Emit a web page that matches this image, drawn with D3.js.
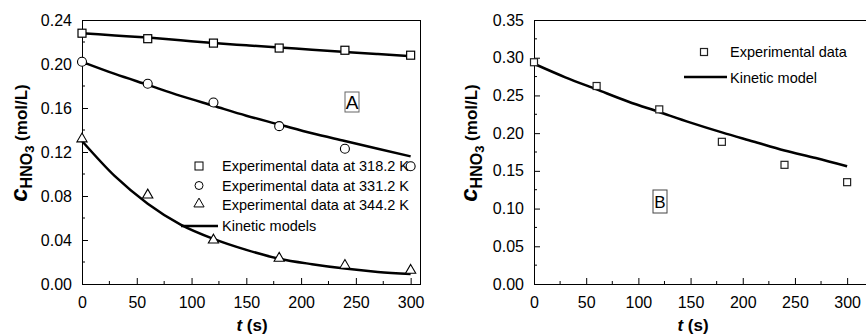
<!DOCTYPE html>
<html>
<head>
<meta charset="utf-8">
<script src="https://cdn.jsdelivr.net/npm/d3@7"></script>
<style>
  body { margin: 0; background: #fff; }
  svg { font-family: Arial, "Liberation Sans", sans-serif; }
</style>
</head>
<body>
<div id="chart-area"></div>
<script>
var width = 866,
    height = 335;

// ---- data ----
var expTimes = [0, 60, 120, 180, 240, 300];
var exp318 = [0.228, 0.223, 0.219, 0.2145, 0.2125, 0.208];
var exp331 = [0.202, 0.182, 0.165, 0.1435, 0.123, 0.107];
var exp344 = [0.131, 0.080, 0.039, 0.0225, 0.016, 0.0115];

var modelTimes = [0, 30, 60, 90, 120, 150, 180, 210, 240, 270, 300];
var model318 = [0.228, 0.226, 0.224, 0.2215, 0.219, 0.217, 0.215, 0.213, 0.211, 0.209, 0.207];
var model331 = [0.202, 0.191, 0.181, 0.171, 0.162, 0.153, 0.145, 0.137, 0.130, 0.123, 0.116];
var model344 = [0.130, 0.098, 0.073, 0.054, 0.041, 0.031, 0.023, 0.018, 0.014, 0.011, 0.009];

var expB = [0.294, 0.2625, 0.2315, 0.1885, 0.158, 0.135];
var modelB = [0.292, 0.274, 0.258, 0.242, 0.228, 0.214, 0.201, 0.189, 0.177, 0.167, 0.156];

var legendA = ["Experimental data at 318.2 K", "Experimental data at 331.2 K",
               "Experimental data at 344.2 K", "Kinetic models"];
var legendB = ["Experimental data", "Kinetic model"];

var xTicks = [0, 50, 100, 150, 200, 250, 300];
var yTicksA = [0, 0.04, 0.08, 0.12, 0.16, 0.20, 0.24];
var yTicksB = [0, 0.05, 0.10, 0.15, 0.20, 0.25, 0.30, 0.35];

var svg = d3.select("#chart-area").append("svg")
    .attr("width", width)
    .attr("height", height);

function zip(xs, ys) {
  return xs.map(function(x, i) { return {t: x, c: ys[i]}; });
}

// draws one panel frame + axes, returns scales
function panel(left, right, xMax, yMax, yTicks, yMinorStep, yFmt, drawRight) {
  var x = d3.scaleLinear().domain([0, xMax]).range([left, right]);
  var y = d3.scaleLinear().domain([0, yMax]).range([284, 20]);
  var g = svg.append("g");

  // minor ticks
  var xMinor = d3.range(25, 301, 50);
  g.selectAll(".xminor").data(xMinor).enter().append("line")
    .attr("x1", d => x(d)).attr("x2", d => x(d))
    .attr("y1", 284).attr("y2", 281)
    .attr("stroke", "#000");
  var yMinor = d3.range(yMinorStep, yMax, yMinorStep * 2);
  g.selectAll(".yminor").data(yMinor).enter().append("line")
    .attr("x1", left).attr("x2", left + 3)
    .attr("y1", d => y(d)).attr("y2", d => y(d))
    .attr("stroke", "#000");

  var xAxis = g.append("g").attr("transform", "translate(0,284)")
    .call(d3.axisBottom(x).tickValues(xTicks).tickSizeInner(-6).tickSizeOuter(0).tickPadding(13));
  var yAxis = g.append("g").attr("transform", "translate(" + left + ",0)")
    .call(d3.axisLeft(y).tickValues(yTicks).tickFormat(d3.format(yFmt)).tickSizeInner(-6).tickSizeOuter(0).tickPadding(10));
  [xAxis, yAxis].forEach(function(a) {
    a.selectAll("text").attr("font-size", 16).attr("fill", "#000")
      .attr("font-family", "Arial, 'Liberation Sans', sans-serif");
    a.selectAll("line").attr("stroke", "#000");
    a.select(".domain").attr("stroke", "#000");
  });

  // top and right frame
  g.append("line").attr("x1", left).attr("x2", right).attr("y1", 20.5).attr("y2", 20.5)
    .attr("stroke", "#000");
  if (drawRight) {
    g.append("line").attr("x1", right).attr("x2", right).attr("y1", 20).attr("y2", 284)
      .attr("stroke", "#000");
  }
  return {x: x, y: y, g: g};
}

function yTitle(cx) {
  var t = svg.append("text")
    .attr("transform", "translate(" + cx + ",143) rotate(-90)")
    .attr("text-anchor", "middle")
    .attr("font-weight", "bold");
  t.append("tspan").attr("font-style", "italic").attr("font-size", 24).text("c");
  t.append("tspan").attr("font-size", 16).attr("dy", 5).text("HNO");
  t.append("tspan").attr("font-size", 13).attr("dy", 2).text("3");
  t.append("tspan").attr("font-size", 17).attr("dy", -7).text(" (mol/L)");
}

function xTitle(cx) {
  var t = svg.append("text")
    .attr("x", cx).attr("y", 331)
    .attr("text-anchor", "middle")
    .attr("font-weight", "bold").attr("font-size", 17);
  t.append("tspan").attr("font-style", "italic").text("t");
  t.append("tspan").text(" (s)");
}

var line = function(p) {
  return d3.line().x(d => p.x(d.t)).y(d => p.y(d.c)).curve(d3.curveMonotoneX);
};

function squares(p, data, size, color) {
  p.g.selectAll(null).data(data).enter().append("rect")
    .attr("x", d => p.x(d.t) - size / 2).attr("y", d => p.y(d.c) - size / 2)
    .attr("width", size).attr("height", size)
    .attr("fill", "#fff").attr("stroke", color).attr("stroke-width", 1.2);
}
function circles(p, data) {
  p.g.selectAll(null).data(data).enter().append("circle")
    .attr("cx", d => p.x(d.t)).attr("cy", d => p.y(d.c)).attr("r", 4.5)
    .attr("fill", "#fff").attr("stroke", "#000").attr("stroke-width", 1.1);
}
var tri = d3.symbol().type(d3.symbolTriangle).size(45);
function triangles(p, data) {
  p.g.selectAll(null).data(data).enter().append("path")
    .attr("d", tri)
    .attr("transform", d => "translate(" + p.x(d.t) + "," + (p.y(d.c) - 1) + ")")
    .attr("fill", "#fff").attr("stroke", "#000").attr("stroke-width", 1.1);
}

// ---------- Panel A ----------
var A = panel(82, 420.5, 309, 0.24, yTicksA, 0.02, ".2f", true);

[model318, model331, model344].forEach(function(m) {
  A.g.append("path").datum(zip(modelTimes, m))
    .attr("d", line(A)).attr("fill", "none")
    .attr("stroke", "#000").attr("stroke-width", 2.5);
});
squares(A, zip(expTimes, exp318), 8, "#000");
circles(A, zip(expTimes, exp331));
triangles(A, zip(expTimes, exp344));

// legend A
var legY = [166, 185.5, 205, 226];
var legX = 199;
A.g.append("rect").attr("x", legX - 4).attr("y", legY[0] - 4).attr("width", 8).attr("height", 8)
  .attr("fill", "#fff").attr("stroke", "#000").attr("stroke-width", 1);
A.g.append("circle").attr("cx", legX).attr("cy", legY[1]).attr("r", 4)
  .attr("fill", "#fff").attr("stroke", "#000").attr("stroke-width", 1);
A.g.append("path").attr("d", tri).attr("transform", "translate(" + legX + "," + (legY[2] - 1) + ")")
  .attr("fill", "#fff").attr("stroke", "#000").attr("stroke-width", 1);
A.g.append("line").attr("x1", 181).attr("x2", 218).attr("y1", legY[3]).attr("y2", legY[3])
  .attr("stroke", "#000").attr("stroke-width", 2.5);
A.g.selectAll(".legA").data(legendA).enter().append("text")
  .attr("x", 222).attr("y", (d, i) => legY[i]).attr("dy", "0.35em")
  .attr("font-size", 14.5).text(d => d);

A.g.append("rect").attr("x", 345).attr("y", 92).attr("width", 14).attr("height", 20)
  .attr("fill", "none").attr("stroke", "#666").attr("stroke-width", 1);
A.g.append("text").attr("x", 352).attr("y", 109).attr("text-anchor", "middle")
  .attr("font-size", 19).text("A");

yTitle(27);
xTitle(252);

// ---------- Panel B ----------
var B = panel(534, 868, 320, 0.35, yTicksB, 0.025, ".2f", false);

B.g.append("path").datum(zip(modelTimes, modelB))
  .attr("d", line(B)).attr("fill", "none")
  .attr("stroke", "#000").attr("stroke-width", 2.5);
squares(B, zip(expTimes, expB), 7, "#222");

B.g.append("rect").attr("x", 700.5).attr("y", 48.5).attr("width", 7).attr("height", 7)
  .attr("fill", "#fff").attr("stroke", "#222").attr("stroke-width", 1.2);
B.g.append("line").attr("x1", 684).attr("x2", 727).attr("y1", 77).attr("y2", 77)
  .attr("stroke", "#000").attr("stroke-width", 2.5);
B.g.selectAll(".legB").data(legendB).enter().append("text")
  .attr("x", 730).attr("y", (d, i) => [52, 78][i]).attr("dy", "0.35em")
  .attr("font-size", 14.5).text(d => d);

B.g.append("rect").attr("x", 653).attr("y", 190).attr("width", 14).attr("height", 23)
  .attr("fill", "none").attr("stroke", "#444").attr("stroke-width", 1);
B.g.append("text").attr("x", 660).attr("y", 208).attr("text-anchor", "middle")
  .attr("font-size", 17).text("B");

yTitle(477);
xTitle(693);
</script>
</body>
</html>
